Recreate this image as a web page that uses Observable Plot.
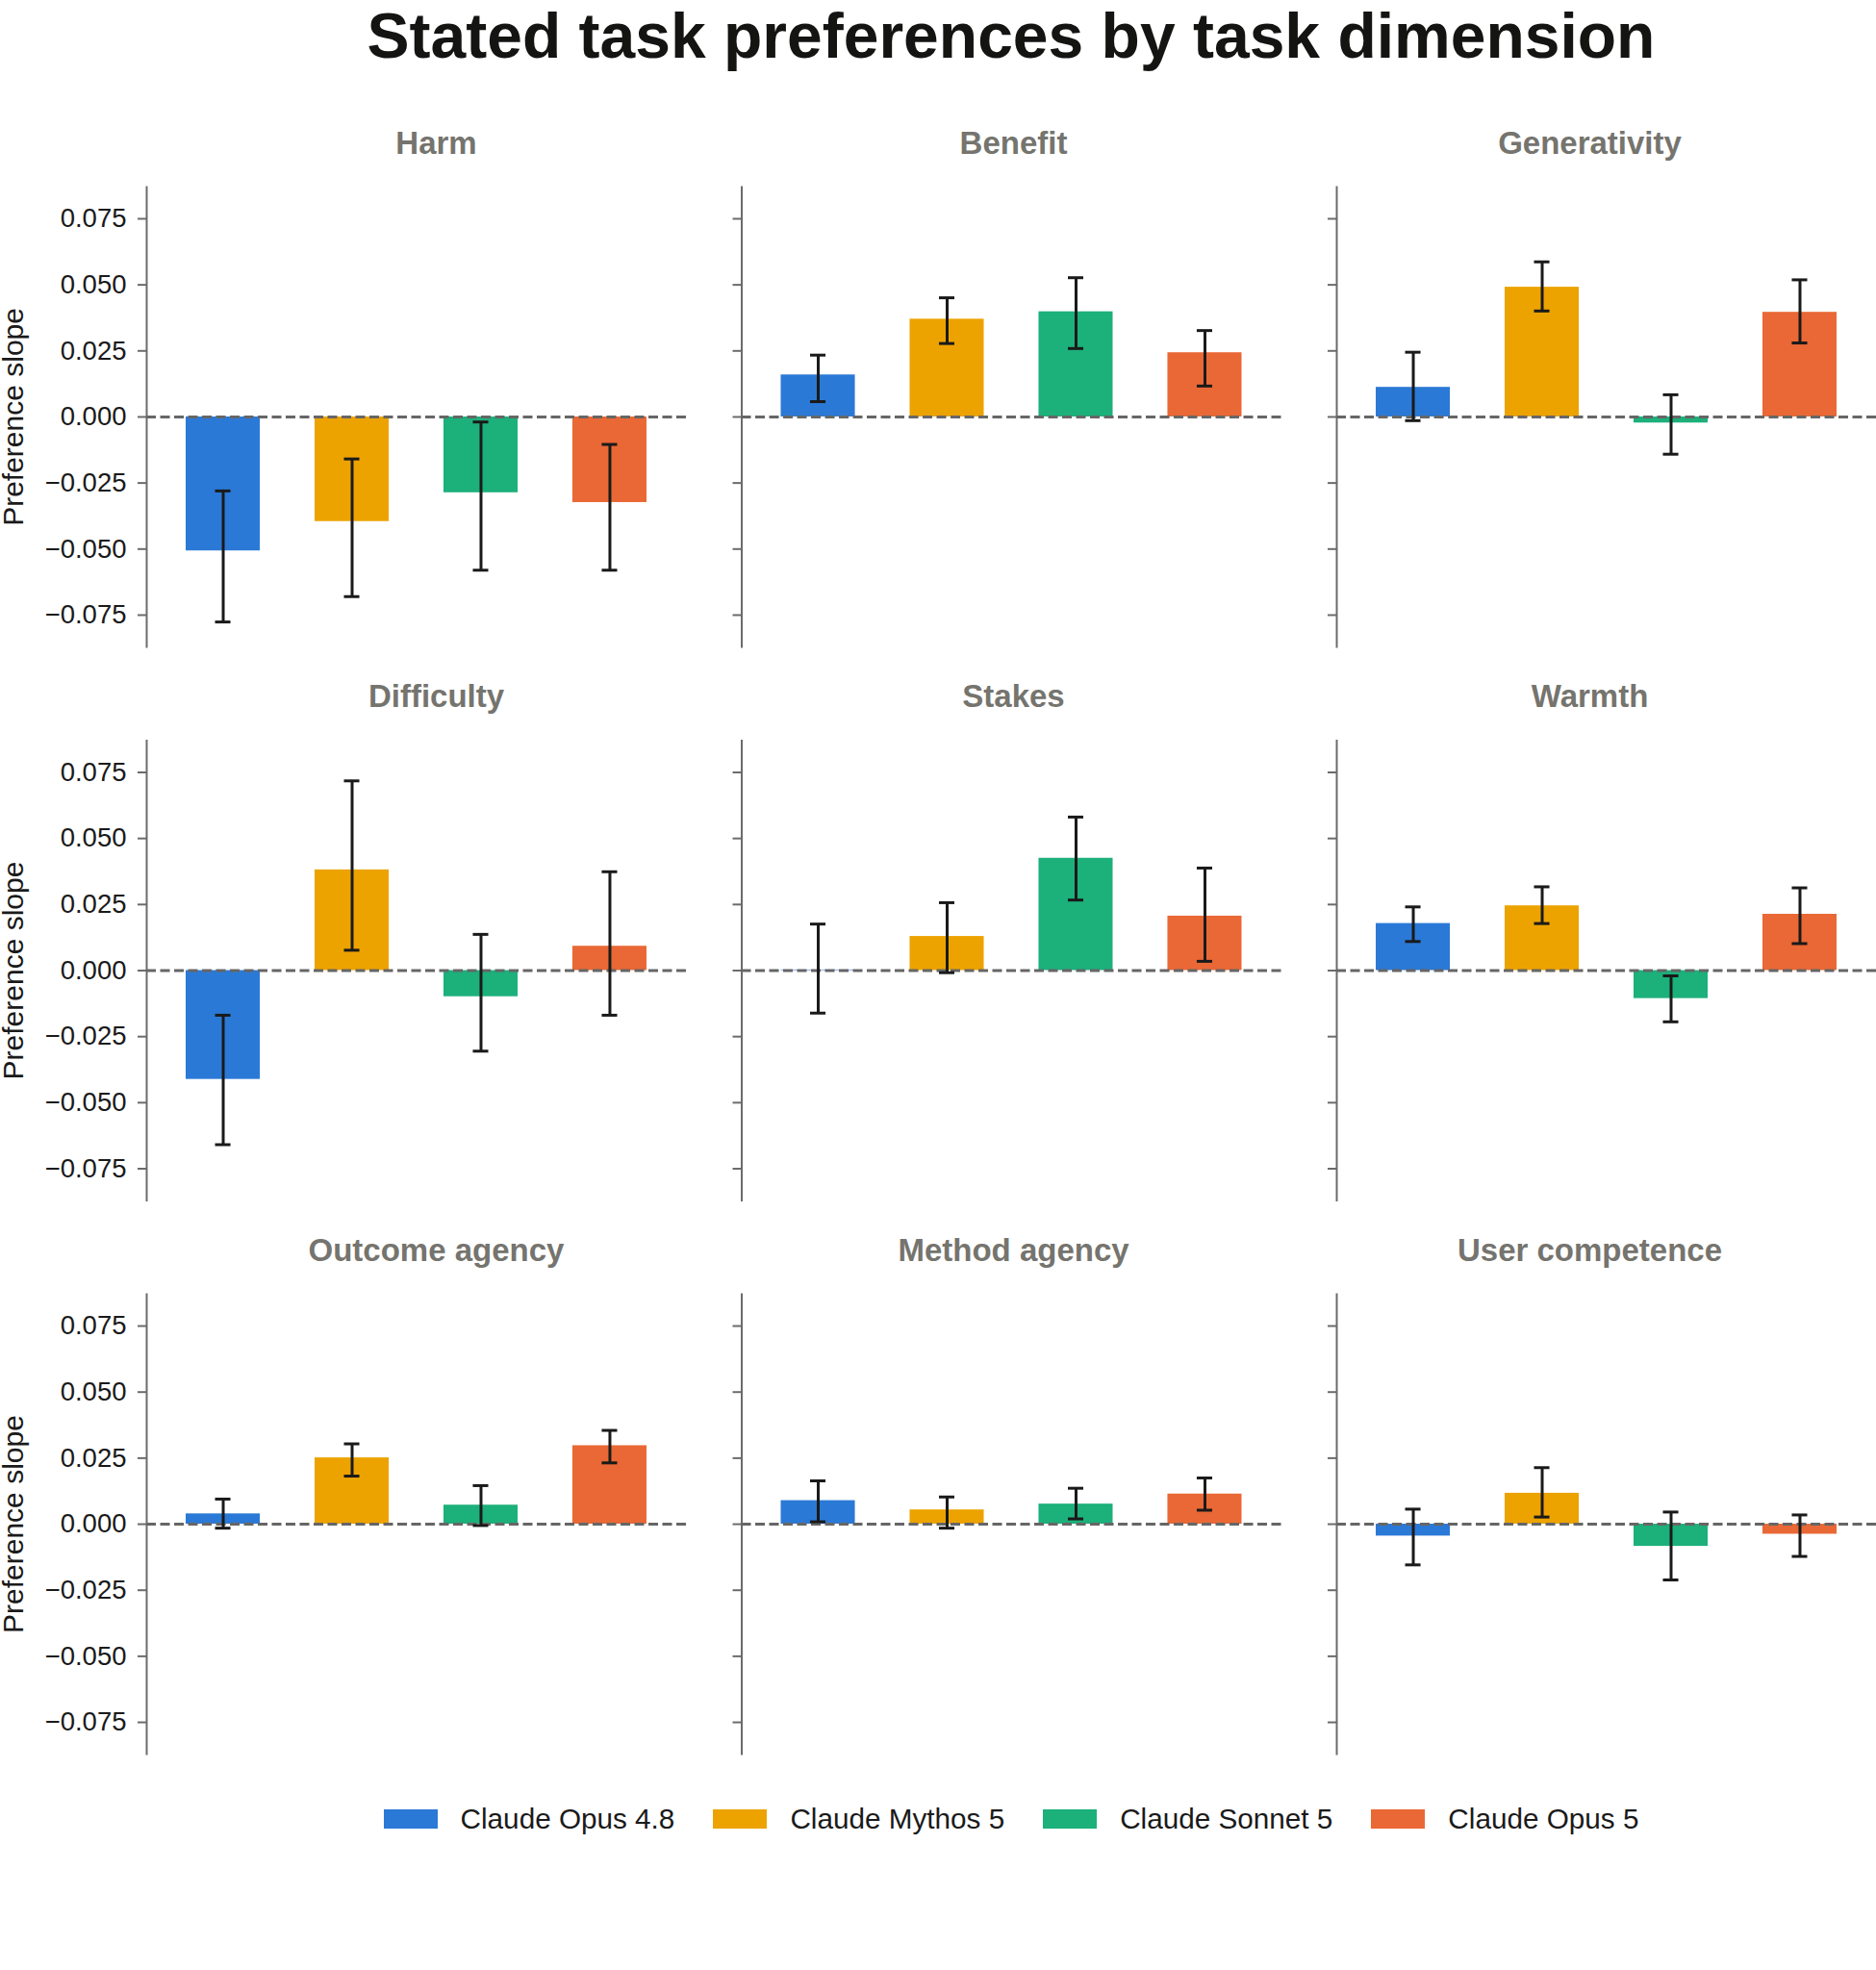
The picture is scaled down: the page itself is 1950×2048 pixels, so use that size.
<!DOCTYPE html>
<html>
<head>
<meta charset="utf-8">
<script src="https://cdn.jsdelivr.net/npm/d3@7"></script>
<script src="https://cdn.jsdelivr.net/npm/@observablehq/plot@0.6"></script>
<style>
  html, body { margin: 0; padding: 0; background: #fff; }
  body { width: 1950px; overflow: hidden; font-family: "Liberation Sans", Arial, sans-serif; }
  #title { position: relative; height: 100px; }
  #title span { position: absolute; left: 152px; width: 1798px; top: 4px; text-align: center;
    font-size: 66px; font-weight: 700; line-height: 1; color: #141413; }
  #chart svg { display: block; }
  #legend { display: flex; justify-content: center; align-items: center; margin-left: 152px;
    width: 1798px; height: 40px; margin-top: 37px; }
  .item { display: flex; align-items: center; margin-right: 40px; }
  .item:last-child { margin-right: 0; }
  .sw { width: 56px; height: 20px; margin-right: 24px; }
  .lab { font-size: 29.7px; color: #1a1a1a; }
</style>
</head>
<body>
<div id="title"><span>Stated task preferences by task dimension</span></div>
<div id="chart"></div>
<div id="legend"></div>
<script>
const dimensions = ["Harm", "Benefit", "Generativity", "Difficulty", "Stakes", "Warmth",
  "Outcome agency", "Method agency", "User competence"];
const models = ["Claude Opus 4.8", "Claude Mythos 5", "Claude Sonnet 5", "Claude Opus 5"];
const colors = ["#2b79d6", "#eca300", "#1cb07b", "#e96835"];
const yTicks = [-0.075, -0.05, -0.025, 0, 0.025, 0.05, 0.075];

// slopes per model, in the order of `dimensions`
const opus48Slope  = [-0.0507, 0.0159, 0.0112, -0.0412, 0.0002, 0.0178, 0.0039, 0.0089, -0.0045];
const mythosSlope  = [-0.0396, 0.0370, 0.0491, 0.0381, 0.0129, 0.0245, 0.0251, 0.0054, 0.0117];
const sonnetSlope  = [-0.0287, 0.0398, -0.0023, -0.0099, 0.0425, -0.0106, 0.0072, 0.0076, -0.0084];
const opus5Slope   = [-0.0324, 0.0243, 0.0396, 0.0092, 0.0206, 0.0213, 0.0297, 0.0114, -0.0038];

// error bar lower ends
const opus48Low  = [-0.0776, 0.0058, -0.0014, -0.0659, -0.0161, 0.0110, -0.0015, 0.0009, -0.0154];
const mythosLow  = [-0.0680, 0.0278, 0.0401, 0.0077, -0.0008, 0.0178, 0.0182, -0.0015, 0.0027];
const sonnetLow  = [-0.0580, 0.0259, -0.0141, -0.0305, 0.0267, -0.0194, -0.0005, 0.0020, -0.0211];
const opus5Low   = [-0.0580, 0.0117, 0.0280, -0.0169, 0.0035, 0.0102, 0.0232, 0.0053, -0.0122];

// error bar upper ends
const opus48High = [-0.0280, 0.0234, 0.0245, -0.0169, 0.0176, 0.0241, 0.0095, 0.0164, 0.0057];
const mythosHigh = [-0.0159, 0.0451, 0.0587, 0.0718, 0.0257, 0.0317, 0.0304, 0.0103, 0.0214];
const sonnetHigh = [-0.0019, 0.0527, 0.0084, 0.0137, 0.0581, -0.0020, 0.0146, 0.0136, 0.0046];
const opus5High  = [-0.0104, 0.0327, 0.0519, 0.0374, 0.0388, 0.0313, 0.0355, 0.0175, 0.0035];

const slopes = [opus48Slope, mythosSlope, sonnetSlope, opus5Slope];
const lows = [opus48Low, mythosLow, sonnetLow, opus5Low];
const highs = [opus48High, mythosHigh, sonnetHigh, opus5High];

const rows = [];
dimensions.forEach((dim, i) => {
  models.forEach((model, j) => {
    rows.push({dim, col: i % 3, row: Math.floor(i / 3), model,
      value: slopes[j][i], lo: lows[j][i], hi: highs[j][i]});
  });
});
const panels = dimensions.map((dim, i) => ({dim, col: i % 3, row: Math.floor(i / 3)}));
const leftPanels = panels.filter(p => p.col === 0).map(p => ({...p, label: "Preference slope"}));

// panel-title horizontal nudges per column (titles sit on a slightly different grid)
const titleShift = [20.5, 2, -17.5];
const titleMarks = [0, 1, 2].map(c =>
  Plot.text(panels.filter(p => p.col === c), {fx: "col", fy: "row", text: "dim",
    frameAnchor: "top", lineAnchor: "bottom", dy: -35, dx: titleShift[c],
    fontSize: 33, fontWeight: "bold", fill: "#75746e"})
);

const chart = Plot.plot({
  width: 1950,
  height: 1734,
  marginTop: 94,
  marginBottom: 11,
  marginLeft: 152,
  marginRight: 0,
  style: {fontFamily: "'Liberation Sans', Arial, sans-serif", background: "#fff", overflow: "visible"},
  fx: {domain: [0, 1, 2], axis: null, paddingInner: 0.093, paddingOuter: 0, round: false},
  fy: {domain: [0, 1, 2], axis: null, paddingInner: 0.1696, paddingOuter: 0, round: false},
  x: {domain: models, axis: null, paddingInner: 0.425, paddingOuter: 0.306, round: false},
  y: {domain: [-0.087, 0.087]},
  color: {domain: models, range: colors},
  marks: [
    Plot.barY(rows, {fx: "col", fy: "row", x: "model", y: "value", fill: "model"}),
    Plot.frame({anchor: "left", stroke: "#6b6b6b", strokeWidth: 2}),
    Plot.axisY({ticks: yTicks, tickSize: 9, tickFormat: () => "", stroke: "#6b6b6b",
      strokeWidth: 2, facetAnchor: null, label: null}),
    Plot.axisY({ticks: yTicks, tickSize: 0, tickPadding: 21, tickFormat: d3.format(".3f"),
      fontSize: 27.5, fill: "#1a1a1a", facetAnchor: "left", label: null}),
    Plot.ruleY([0], {stroke: "#666666", strokeWidth: 3, strokeDasharray: "10,4.5"}),
    Plot.ruleX(rows, {fx: "col", fy: "row", x: "model", y1: "lo", y2: "hi",
      stroke: "#1a1a1a", strokeWidth: 3}),
    Plot.tickY(rows, {fx: "col", fy: "row", x: "model", y: "lo", stroke: "#1a1a1a",
      strokeWidth: 3, insetLeft: 30.5, insetRight: 30.5}),
    Plot.tickY(rows, {fx: "col", fy: "row", x: "model", y: "hi", stroke: "#1a1a1a",
      strokeWidth: 3, insetLeft: 30.5, insetRight: 30.5}),
    ...titleMarks,
    Plot.text(leftPanels, {fx: "col", fy: "row", text: "label", frameAnchor: "left",
      textAnchor: "middle", lineAnchor: "middle", rotate: -90, dx: -138.5,
      fontSize: 30, fill: "#1a1a1a"})
  ]
});
document.getElementById("chart").appendChild(chart);

const legend = document.getElementById("legend");
models.forEach((m, j) => {
  const item = document.createElement("div");
  item.className = "item";
  const sw = document.createElement("div");
  sw.className = "sw";
  sw.style.background = colors[j];
  const lab = document.createElement("span");
  lab.className = "lab";
  lab.textContent = m;
  item.appendChild(sw);
  item.appendChild(lab);
  legend.appendChild(item);
});
</script>
</body>
</html>
